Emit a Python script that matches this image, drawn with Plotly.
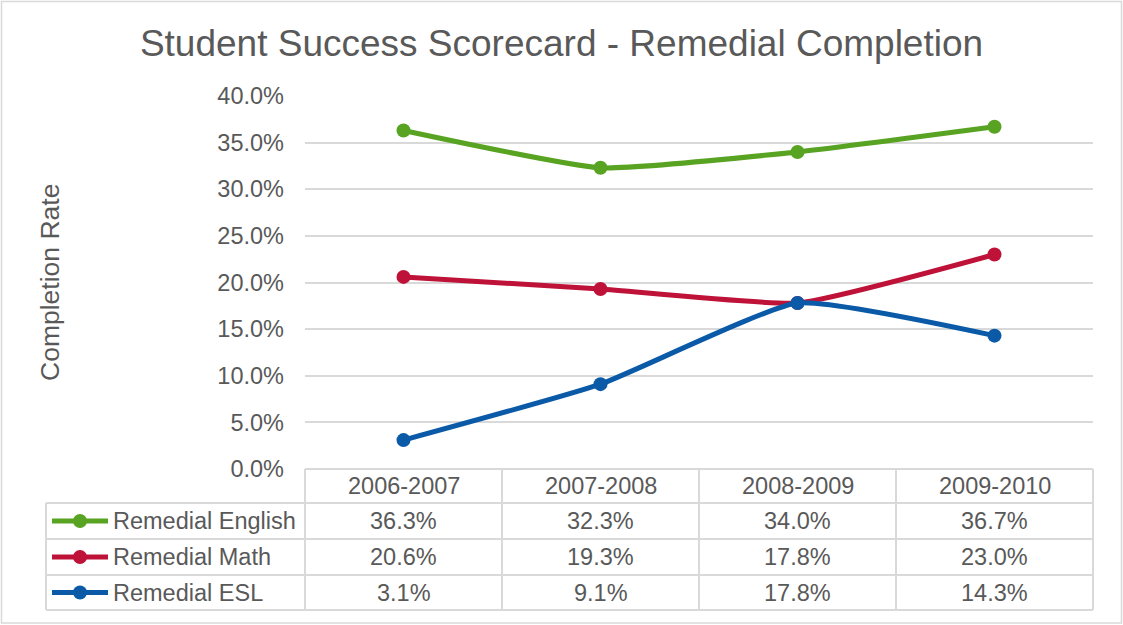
import plotly.graph_objects as go

# ---- data ----
years = ["2006-2007", "2007-2008", "2008-2009", "2009-2010"]
english = [0.363, 0.323, 0.340, 0.367]
math_ = [0.206, 0.193, 0.178, 0.230]
esl = [0.031, 0.091, 0.178, 0.143]
series_names = ["Remedial English", "Remedial Math", "Remedial ESL"]
series_values = [english, math_, esl]
series_colors = ["#58A322", "#BE1238", "#0B5AA8"]

title_text = "Student Success Scorecard - Remedial Completion"
y_title = "Completion Rate"

# ---- layout geometry (pixels) ----
W, H = 1123, 625
PL, PR, PT, PB = 305, 1093, 96, 469
TXT = "#595959"
GRID = "#D9D9D9"
FONT = "Liberation Sans, Arial, sans-serif"


def px(x):
    return (x - PL) / (PR - PL)


def py(y):
    return (PB - y) / (PB - PT)


fig = go.Figure()
for name, vals, col in zip(series_names, series_values, series_colors):
    fig.add_trace(go.Scatter(
        x=years, y=vals, name=name, mode="lines+markers",
        line=dict(color=col, width=5, shape="spline", smoothing=0.45),
        marker=dict(color=col, size=14),
        showlegend=False, cliponaxis=False,
    ))

shapes = []
annotations = []

# outer border
shapes.append(dict(type="rect", xref="paper", yref="paper",
                   x0=px(1.5), x1=px(1121.5), y0=py(623), y1=py(1.5),
                   line=dict(color=GRID, width=1.5)))

# table geometry
row_y = [469, 503, 539, 575, 610]
col_x = [305, 502, 699, 896, 1093]
left_x = 46
line_style = dict(color=GRID, width=2)
# horizontal lines
shapes.append(dict(type="line", xref="paper", yref="paper",
                   x0=px(col_x[0]), x1=px(col_x[-1]), y0=py(row_y[0]), y1=py(row_y[0]), line=line_style))
for ry in row_y[1:]:
    shapes.append(dict(type="line", xref="paper", yref="paper",
                       x0=px(left_x), x1=px(col_x[-1]), y0=py(ry), y1=py(ry), line=line_style))
# vertical lines
shapes.append(dict(type="line", xref="paper", yref="paper",
                   x0=px(left_x), x1=px(left_x), y0=py(row_y[1]), y1=py(row_y[-1]), line=line_style))
for cx in col_x:
    shapes.append(dict(type="line", xref="paper", yref="paper",
                       x0=px(cx), x1=px(cx), y0=py(row_y[0]), y1=py(row_y[-1]), line=line_style))

tfont = dict(family=FONT, size=23.5, color=TXT)
# header row
for i, yr in enumerate(years):
    annotations.append(dict(x=yr, xref="x", y=py((row_y[0] + row_y[1]) / 2), yref="paper",
                            text=yr, showarrow=False, font=tfont,
                            xanchor="center", yanchor="middle"))
# data rows
for r, (name, vals, col) in enumerate(zip(series_names, series_values, series_colors)):
    cy = (row_y[r + 1] + row_y[r + 2]) / 2
    # legend key
    shapes.append(dict(type="line", xref="paper", yref="paper",
                       x0=px(52), x1=px(108), y0=py(cy), y1=py(cy),
                       line=dict(color=col, width=5)))
    shapes.append(dict(type="circle", xref="paper", yref="paper",
                       x0=px(80 - 7), x1=px(80 + 7), y0=py(cy + 7), y1=py(cy - 7),
                       fillcolor=col, line=dict(color=col, width=0)))
    annotations.append(dict(x=px(111), xref="paper", y=py(cy), yref="paper",
                            text=name, showarrow=False, font=tfont,
                            xanchor="left", yanchor="middle"))
    for yr, v in zip(years, vals):
        annotations.append(dict(x=yr, xref="x", y=py(cy), yref="paper",
                                text=f"{v * 100:.1f}%", showarrow=False, font=tfont,
                                xanchor="center", yanchor="middle"))

# y axis title
annotations.append(dict(x=px(50), xref="paper", y=py(283), yref="paper",
                        text=y_title, textangle=-90, showarrow=False,
                        font=dict(family=FONT, size=26.5, color=TXT),
                        xanchor="center", yanchor="middle"))

fig.update_layout(
    width=W, height=H,
    margin=dict(l=PL, r=W - PR, t=PT, b=H - PB, pad=0),
    paper_bgcolor="white", plot_bgcolor="white",
    title=dict(text=title_text, x=0.5, xref="container", xanchor="center",
               y=(H - 43) / H, yref="container", yanchor="middle",
               font=dict(family=FONT, size=37, color=TXT)),
    xaxis=dict(range=[-0.5, 3.5], showticklabels=False, showgrid=False,
               zeroline=False, showline=False, ticks=""),
    yaxis=dict(range=[0, 0.4], dtick=0.05, tickformat=".1%", showgrid=True,
               gridcolor=GRID, gridwidth=1.5, zeroline=False, showline=False,
               ticks="", ticklabelstandoff=20,
               tickfont=dict(family=FONT, size=23.5, color=TXT)),
    shapes=shapes, annotations=annotations,
)

fig.write_html("out.html", config={"displayModeBar": False},
               post_script="document.body.style.margin='0';document.body.style.overflow='hidden';")
